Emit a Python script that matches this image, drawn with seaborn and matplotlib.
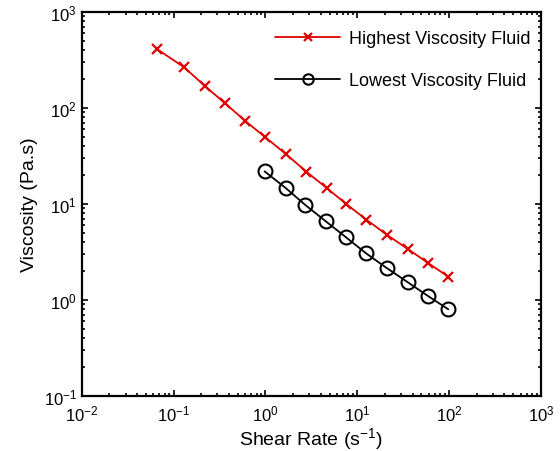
import numpy as np
import pandas as pd
import seaborn as sns
import matplotlib
matplotlib.use("Agg")
import matplotlib.pyplot as plt
from matplotlib.ticker import LogLocator, NullFormatter

# values
high_rate = [0.066, 0.131, 0.217, 0.36, 0.599, 1.0, 1.67, 2.78, 4.64, 7.6, 12.6, 21.2, 35.5, 59.0, 98.0]
high_visc = [412, 265, 171, 113, 73.8, 49.5, 33.2, 21.8, 14.7, 10.0, 6.86, 4.75, 3.40, 2.43, 1.75]
low_rate = [0.98, 1.66, 2.72, 4.55, 7.55, 12.5, 21.0, 35.5, 59.0, 98.0]
low_visc = [21.9, 14.7, 9.77, 6.6, 4.5, 3.06, 2.15, 1.53, 1.10, 0.80]

sns.set_style("ticks")
plt.rcParams["font.family"] = ["Liberation Sans", "DejaVu Sans"]
plt.rcParams["mathtext.fontset"] = "custom"
plt.rcParams["mathtext.rm"] = "Liberation Sans"
plt.rcParams["mathtext.it"] = "Liberation Sans:italic"
plt.rcParams["mathtext.default"] = "regular"
plt.rcParams["text.color"] = "black"
plt.rcParams["axes.labelcolor"] = "black"
plt.rcParams["xtick.color"] = "black"
plt.rcParams["ytick.color"] = "black"
plt.rcParams["axes.edgecolor"] = "black"

fig = plt.figure(figsize=(5.6, 4.52), dpi=100)
ax = fig.add_axes([0.146, 0.1217, 0.82, 0.8493])

red = "#e00000"
sns.lineplot(x=high_rate, y=high_visc, color=red, marker="x", markersize=7,
             markeredgecolor=red, markeredgewidth=1.6, linewidth=1.3,
             label="Highest Viscosity Fluid", ax=ax)
sns.lineplot(x=low_rate, y=low_visc, color="black", marker="o", markersize=10,
             markerfacecolor="none", markeredgecolor="black", markeredgewidth=1.5,
             linewidth=1.3, label="Lowest Viscosity Fluid", ax=ax)

ax.set_xscale("log")
ax.set_yscale("log")
ax.set_xlim(1e-2, 1e3)
ax.set_ylim(1e-1, 1e3)
ax.xaxis.set_major_locator(LogLocator(base=10, numticks=10))
ax.yaxis.set_major_locator(LogLocator(base=10, numticks=10))
ax.xaxis.set_minor_locator(LogLocator(base=10, subs=np.arange(2, 10), numticks=10))
ax.yaxis.set_minor_locator(LogLocator(base=10, subs=np.arange(2, 10), numticks=10))
ax.xaxis.set_minor_formatter(NullFormatter())
ax.yaxis.set_minor_formatter(NullFormatter())
ax.tick_params(which="both", top=True, right=True, direction="in", width=1.2)
ax.tick_params(which="major", length=4, labelsize=12)
ax.tick_params(which="minor", length=2)
ax.tick_params(axis="x", which="major", pad=5.5)
for s in ax.spines.values():
    s.set_linewidth(1.6)
    s.set_visible(True)

ax.set_xlabel("Shear Rate (s$^{-1}$)", fontsize=14, labelpad=1)
ax.set_ylabel("Viscosity (Pa.s)", fontsize=14)
ax.legend(loc="upper right", bbox_to_anchor=(1.017, 1.0), frameon=False, fontsize=13,
          handlelength=3.6, borderaxespad=0.2, borderpad=0.8, labelspacing=1.4,
          handletextpad=0.5, markerscale=0.75)

fig.savefig("out.png", dpi=100)
